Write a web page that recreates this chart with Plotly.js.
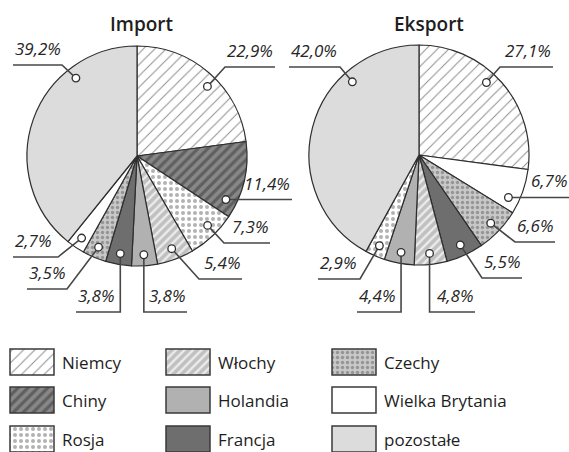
<!DOCTYPE html>
<html>
<head>
<meta charset="utf-8">
<script src="https://cdn.plot.ly/plotly-3.0.1.min.js"></script>
<style>
html,body{margin:0;padding:0;background:#fff;}
#chart{width:569px;height:452px;}
</style>
</head>
<body>
<div id="chart"></div>
<script>
// ---------- DATA ----------
const categories = ['Niemcy','Chiny','Rosja','Włochy','Holandia','Francja','Czechy','Wielka Brytania','pozostałe'];
const importLabels = ['Niemcy','Chiny','Rosja','Włochy','Holandia','Francja','Czechy','Wielka Brytania','pozostałe'];
const importValues = [22.9, 11.4, 7.3, 5.4, 3.8, 3.8, 3.5, 2.7, 39.2];
const exportLabels = ['Niemcy','Wielka Brytania','Czechy','Francja','Włochy','Holandia','Rosja','pozostałe'];
const exportValues = [27.1, 6.7, 6.6, 5.5, 4.8, 4.4, 2.9, 42.0];
const pieTitles = ['Import', 'Eksport'];

// ---------- STYLE ----------
const W = 569, H = 452;
const style = {
  'Niemcy':          {color:'#ffffff', shape:'/', fg:'#8c8c8c', size:8, sol:0.12},
  'Chiny':           {color:'#878787', shape:'/', fg:'#5f5f5f', size:7, sol:0.45},
  'Rosja':           {color:'#ffffff', shape:'.', fg:'#b3b3b3', size:6, sol:0.35},
  'Włochy':          {color:'#c0c0c0', shape:'/', fg:'#ececec', size:6, sol:0.4},
  'Holandia':        {color:'#b1b1b1', shape:'',  fg:'#b1b1b1', size:6, sol:0.3},
  'Francja':         {color:'#6e6e6e', shape:'',  fg:'#6e6e6e', size:6, sol:0.3},
  'Czechy':          {color:'#c8c8c8', shape:'.', fg:'#959595', size:5, sol:0.35},
  'Wielka Brytania': {color:'#ffffff', shape:'',  fg:'#ffffff', size:6, sol:0.3},
  'pozostałe':       {color:'#dcdcdc', shape:'',  fg:'#dcdcdc', size:6, sol:0.3}
};
// pie geometry (pixels) and label placement: [elbowX, elbowY, endX]; null = take from dot
const pieGeo = [
  {cx:137, cy:156, r:110, titleX:141,
   dotFrac:[0.55,0.82,0.42,0.5,0.5,0.5,0.5,0.5,0.73],
   lab:[[225,67,275],[null,null,292],[224,243,270],[199,279,242],[null,312,187],[null,312,76],[67,289,27],[58,257,13],[62,65,13]]},
  {cx:419, cy:155, r:110, titleX:429,
   dotFrac:[0.44,0.74,0.5,0.5,0.5,0.5,0.5,0.72],
   lab:[[500,67,553],[null,null,569],[515,242,555],[482,278,522],[null,312,475],[null,312,357],[360,279,318],[340,67,289]]}
];
const legendColX = [10, 166, 332];
const legendRowY = [362, 400, 439];
const swW = 44, swH = 26;

const fmt = v => v.toFixed(1).replace('.', ',') + '%';
const pctFont = {family:'Open Sans, sans-serif', size:17, color:'#262626', style:'italic'};

const traces = [];
const shapes = [];
const annotations = [];
const datasets = [[importLabels, importValues], [exportLabels, exportValues]];

datasets.forEach(([labels, values], k) => {
  const g = pieGeo[k];
  const st = labels.map(l => style[l]);
  traces.push({
    type:'pie', labels:labels, values:values, sort:false, direction:'clockwise', rotation:0,
    textinfo:'none', hoverinfo:'skip', showlegend:false,
    domain:{x:[(g.cx-g.r)/W, (g.cx+g.r)/W], y:[1-(g.cy+g.r)/H, 1-(g.cy-g.r)/H]},
    marker:{
      colors: st.map(s => s.color),
      line:{color:'#2e2e2e', width:1.2},
      pattern:{shape: st.map(s => s.shape), fgcolor: st.map(s => s.fg), bgcolor: st.map(s => s.color),
               size: st.map(s => s.size), solidity: st.map(s => s.sol), fillmode:'replace'}
    }
  });
  annotations.push({xref:'x', yref:'y', x:g.titleX, y:24, xanchor:'center', yanchor:'middle', showarrow:false,
    text:pieTitles[k], font:{family:'Open Sans, sans-serif', size:19, weight:600, color:'#1e1e1e'}});

  const total = values.reduce((a,b)=>a+b, 0);
  let cum = 0;
  const dots = [];
  values.forEach((v, i) => {
    const theta = (cum + g.dotFrac[i]*v) / total * 2 * Math.PI;
    cum += v;
    const dx = g.cx + 0.9*g.r*Math.sin(theta);
    const dy = g.cy - 0.9*g.r*Math.cos(theta);
    const [ex0, ey0, lx] = g.lab[i];
    const ex = ex0 === null ? dx : ex0;
    const ey = ey0 === null ? dy : ey0;
    shapes.push({type:'path', xref:'x', yref:'y', layer:'above',
      path:`M${dx},${dy} L${ex},${ey} L${lx},${ey}`, line:{color:'#474747', width:1.6}});
    dots.push([dx, dy]);
    const right = lx > ex;
    annotations.push({xref:'x', yref:'y', x: lx, y: ey - 3,
      xanchor: right ? 'right' : 'left', yanchor:'bottom', showarrow:false,
      text: fmt(v), font: pctFont});
  });
  dots.forEach(([dx, dy]) => {
    shapes.push({type:'circle', xref:'x', yref:'y', layer:'above',
      x0:dx-3.8, x1:dx+3.8, y0:dy-3.8, y1:dy+3.8, fillcolor:'#ffffff', line:{color:'#2e2e2e', width:1.3}});
  });
});

// legend swatches (one bar trace per category, column-major order)
categories.forEach((c, i) => {
  const s = style[c];
  const y = legendRowY[i % 3];
  const base = legendColX[Math.floor(i / 3)];
  const marker = {color: s.color, line:{color:'#3a3a3a', width:1.5}};
  if (s.shape) {
    marker.pattern = {shape: s.shape, fgcolor: s.fg, bgcolor: s.color, size: s.size, solidity: s.sol, fillmode:'replace'};
  }
  traces.push({
    type:'bar', orientation:'h', name:c, y:[y], base:[base], x:[swW], width:[swH],
    xaxis:'x', yaxis:'y', hoverinfo:'skip', showlegend:false, marker: marker
  });
  annotations.push({xref:'x', yref:'y', x: base + swW + 6, y: y, xanchor:'left', yanchor:'middle',
    showarrow:false, text:c, font:{family:'Open Sans, sans-serif', size:17, color:'#1e1e1e'}});
});

const layout = {
  width:W, height:H, margin:{l:0, r:0, t:0, b:0}, paper_bgcolor:'#ffffff', plot_bgcolor:'rgba(0,0,0,0)',
  showlegend:false, barmode:'overlay',
  xaxis:{range:[0, W], visible:false, fixedrange:true},
  yaxis:{range:[H, 0], visible:false, fixedrange:true},
  shapes:shapes, annotations:annotations
};
Plotly.newPlot('chart', traces, layout, {staticPlot:true, displayModeBar:false});
</script>
</body>
</html>
